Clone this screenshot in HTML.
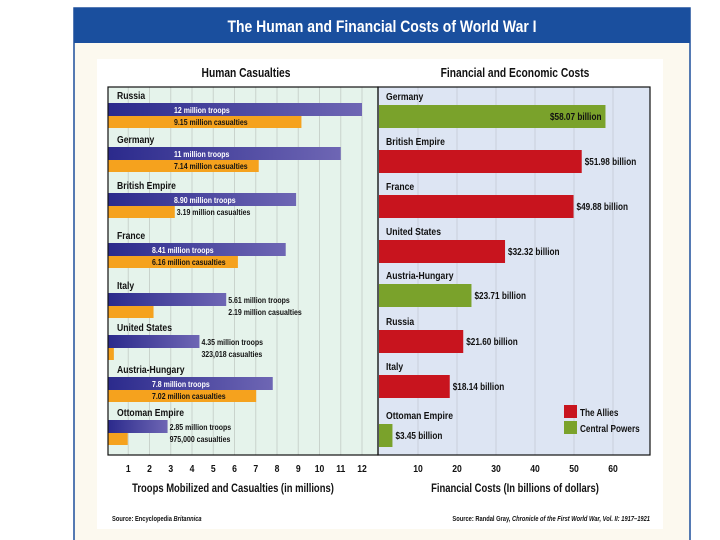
<!DOCTYPE html>
<html><head><meta charset="utf-8"><style>
body{margin:0;width:720px;height:540px;background:#fff;overflow:hidden}
svg{display:block}
text{font-family:"Liberation Sans",sans-serif;font-weight:bold}
</style></head><body>
<svg id="c" width="720" height="540" xmlns="http://www.w3.org/2000/svg">
<rect x="0" y="0" width="720" height="540" fill="#fff"/>
<rect x="74" y="8" width="616" height="540" fill="#fcf9ef" stroke="#1d4f9c" stroke-width="1.5"/>
<rect x="74" y="8" width="616" height="35" fill="#1a4f9e"/>
<text x="382" y="32" text-anchor="middle" font-size="17" fill="#fff">The Human and Financial Costs of World War I</text>
<rect x="97" y="59" width="566" height="470" fill="#fff"/>
<text x="246" y="77" text-anchor="middle" font-size="12.5" fill="#111">Human Casualties</text>
<text x="515" y="77" text-anchor="middle" font-size="12.5" fill="#111">Financial and Economic Costs</text>
<rect x="108" y="87" width="270" height="368" fill="#e5f3eb"/>
<rect x="378" y="87" width="272" height="368" fill="#dde5f3"/>
<g id="lg"></g><g id="rg"></g><g id="lb"></g><g id="rb"></g>
<rect x="108" y="87" width="270" height="368" fill="none" stroke="#111" stroke-width="1.2"/>
<rect x="378" y="87" width="272" height="368" fill="none" stroke="#111" stroke-width="1.2"/>
<text x="233" y="492" text-anchor="middle" font-size="11.5" fill="#111">Troops Mobilized and Casualties (in millions)</text>
<text x="515" y="492" text-anchor="middle" font-size="11.5" fill="#111">Financial Costs (In billions of dollars)</text>
<text x="112" y="521" font-size="7" font-weight="normal" fill="#111">Source: Encyclopedia <tspan font-style="italic">Britannica</tspan></text>
<text x="650" y="521" text-anchor="end" font-size="7" font-weight="normal" fill="#111">Source: Randal Gray, <tspan font-style="italic">Chronicle of the First World War, Vol. II: 1917–1921</tspan></text>
<rect x="564" y="405" width="13" height="13" fill="#c8141e"/>
<text x="580" y="416" font-size="10" fill="#111">The Allies</text>
<rect x="564" y="421" width="13" height="13" fill="#7aa22b"/>
<text x="580" y="432" font-size="10" fill="#111">Central Powers</text>
<defs><linearGradient id="tg" x1="0" x2="1"><stop offset="0" stop-color="#2b2a8c"/><stop offset="1" stop-color="#6e66b4"/></linearGradient></defs>
</svg>
<script>
const countries=["Russia","Germany","British Empire","France","Italy","United States","Austria-Hungary","Ottoman Empire"];
const troops=[12,11,8.9,8.41,5.61,4.35,7.8,2.85];
const casualties=[9.15,7.14,3.19,6.16,2.19,0.323,7.02,0.975];
const troopLabels=["12 million troops","11 million troops","8.90 million troops","8.41 million troops","5.61 million troops","4.35 million troops","7.8 million troops","2.85 million troops"];
const casLabels=["9.15 million casualties","7.14 million casualties","3.19 million casualties","6.16 million casualties","2.19 million casualties","323,018 casualties","7.02 million casualties","975,000 casualties"];
const leftTicks=[1,2,3,4,5,6,7,8,9,10,11,12];
const finCountries=["Germany","British Empire","France","United States","Austria-Hungary","Russia","Italy","Ottoman Empire"];
const finCosts=[58.07,51.98,49.88,32.32,23.71,21.60,18.14,3.45];
const finLabels=["$58.07 billion","$51.98 billion","$49.88  billion","$32.32 billion","$23.71 billion","$21.60 billion","$18.14 billion","$3.45 billion"];
const finSide=["central","allies","allies","allies","central","allies","allies","central"];
const rightTicks=[10,20,30,40,50,60];

const NS="http://www.w3.org/2000/svg";
function el(p,t,a,txt){const e=document.createElementNS(NS,t);for(const k in a)e.setAttribute(k,a[k]);if(txt!=null)e.textContent=txt;p.appendChild(e);return e;}
const lx=v=>107+v*21.25;
const rx=v=>379+v*3.9;
const lRowY=[95,139,185,235,285,327,369,412];
const rRowY=[96,141,186,231,275,321,366,415];
const svg=document.getElementById('c');
const lg=document.getElementById('lg'),rg=document.getElementById('rg'),lb=document.getElementById('lb'),rb=document.getElementById('rb');
leftTicks.forEach(t=>{
  const g=el(lg,'line',{x1:lx(t),x2:lx(t),y1:87,y2:455,stroke:'#c9d3cc','stroke-width':1});
  
  
  const tx=el(svg,'text',{x:lx(t),y:472,'text-anchor':'middle','font-size':10.5,fill:'#111'},String(t));
  
  
});
rightTicks.forEach(t=>{
  const g=el(rg,'line',{x1:rx(t),x2:rx(t),y1:87,y2:455,stroke:'#c9cfdb','stroke-width':1});
  
  
  const tx=el(svg,'text',{x:rx(t),y:472,'text-anchor':'middle','font-size':10.5,fill:'#111'},String(t));
  
  
});
countries.forEach((c,i)=>{
  const y=lRowY[i];
  const l=el(lb,'text',{x:117,y:y+4,'font-size':10.5,fill:'#111'},c);
  
  
  const tb=el(lb,'rect',{x:108,y:y+8,width:lx(troops[i])-108,height:13,fill:'url(#tg)'});
  
  
  const cb=el(lb,'rect',{x:108,y:y+21,width:lx(casualties[i])-108,height:12,fill:'#f5a21e'});
  
  
  const inside=lx(troops[i])>260;
  const tX=inside?(lx(troops[i])<290?152:174):lx(troops[i])+2;
  const cX=inside?(lx(casualties[i])>200?tX:Math.max(tX,lx(casualties[i])+2)):tX;
  const t1=el(lb,'text',{x:tX,y:y+18,'font-size':8.5,fill:inside?'#fff':'#111'},troopLabels[i]);
  
  
  const t2=el(lb,'text',{x:cX,y:y+30,'font-size':8.5,fill:'#111'},casLabels[i]);
  
  
});
finCountries.forEach((c,i)=>{
  const y=rRowY[i];
  const l=el(rb,'text',{x:386,y:y+4,'font-size':10.5,fill:'#111'},c);
  
  
  const b=el(rb,'rect',{x:379,y:y+9,width:rx(finCosts[i])-379,height:23,fill:finSide[i]==='allies'?'#c8141e':'#7aa22b'});
  
  
  const inside=finCosts[i]>55;
  const t=el(rb,'text',{x:inside?rx(finCosts[i])-4:rx(finCosts[i])+3,y:y+24,'text-anchor':inside?'end':'start','font-size':10,'font-weight':'normal',fill:'#111'},finLabels[i]);
  
  
});
// condense all text to mimic a narrow typeface
svg.querySelectorAll('text').forEach(t=>{
  const w=t.getComputedTextLength();
  if(w>0){t.setAttribute('textLength',(w*0.82).toFixed(1));t.setAttribute('lengthAdjust','spacingAndGlyphs');}
});
</script>
</body></html>
